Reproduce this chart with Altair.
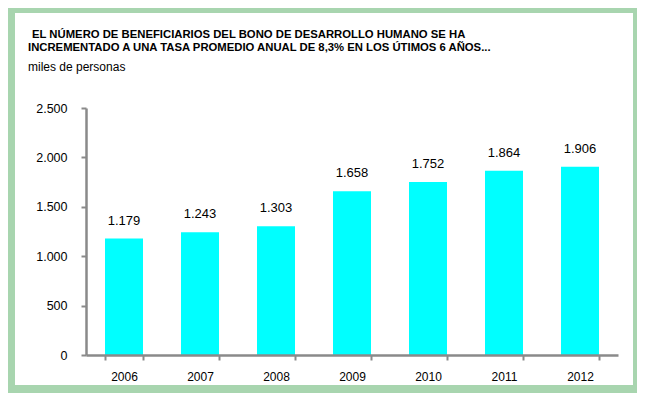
import altair as alt
import pandas as pd

years = ["2006", "2007", "2008", "2009", "2010", "2011", "2012"]
values = [1179, 1243, 1303, 1658, 1752, 1864, 1906]
title_line1 = "EL NÚMERO DE BENEFICIARIOS  DEL BONO  DE DESARROLLO  HUMANO  SE HA"
title_line2 = "INCREMENTADO  A UNA  TASA PROMEDIO  ANUAL  DE 8,3%  EN LOS ÚTIMOS 6 AÑOS..."
unit_label = "miles de personas"
y_ticks = [0, 500, 1000, 1500, 2000, 2500]

df = pd.DataFrame({"year": years, "value": values})

W, H = 532, 247
PL, PT, PR, PB = 78, 100, 19, 38
GREY = "#8a8a8a"
FONT = "Liberation Sans"

fmt = "replace(format(datum.value, ','), ',', '.')"

frame = alt.Chart(pd.DataFrame({"a": [0]})).mark_rect(color="white").encode(
    x=alt.value(-71), x2=alt.value(547), y=alt.value(-95), y2=alt.value(277)
)

base = alt.Chart(df)

bars = base.mark_bar(color="#00FFFF").encode(
    x=alt.X(
        "year:N",
        sort=years,
        scale=alt.Scale(paddingInner=0.5, paddingOuter=0.25),
        axis=alt.Axis(
            title=None,
            labelAngle=0,
            tickBand="extent",
            domainColor=GREY,
            domainWidth=2.5,
            tickColor=GREY,
            tickWidth=2,
            tickSize=5,
            labelPadding=11,
            labelFont=FONT,
            labelFontSize=12,
            labelColor="black",
            zindex=1,
        ),
    ),
    y=alt.Y(
        "value:Q",
        scale=alt.Scale(domain=[0, 2500], nice=False),
        axis=alt.Axis(
            title=None,
            values=y_ticks,
            grid=False,
            labelExpr=fmt,
            domainColor=GREY,
            domainWidth=2.5,
            tickColor=GREY,
            tickWidth=2,
            tickSize=5,
            labelPadding=14,
            labelFont=FONT,
            labelFontSize=12.5,
            labelColor="black",
            zindex=1,
        ),
    ),
)

labels = base.transform_calculate(
    lab=fmt
).mark_text(baseline="middle", dy=-18, font=FONT, fontSize=13, color="black").encode(
    x=alt.X("year:N", sort=years),
    y=alt.Y("value:Q"),
    text="lab:N",
)

def text_layer(txt, x, y, bold, size):
    return alt.Chart(pd.DataFrame({"t": [txt]})).mark_text(
        align="left", baseline="middle", font=FONT, fontSize=size,
        fontWeight="bold" if bold else "normal", color="black"
    ).encode(x=alt.value(x), y=alt.value(y), text="t:N")

t1 = text_layer(title_line1, -54, -73, True, 11.3)
t2 = text_layer(title_line2, -58, -60, True, 11.3)
t3 = text_layer(unit_label, -58, -41, False, 12)

chart = alt.layer(frame, bars, labels, t1, t2, t3).properties(
    width=W, height=H,
    autosize=alt.AutoSizeParams(type="none"),
    padding={"left": PL, "top": PT, "right": PR, "bottom": PB},
    background="#A8D5AF",
).configure_view(stroke=None)

chart.save("out.html", embed_options={"renderer": "svg", "actions": False})
